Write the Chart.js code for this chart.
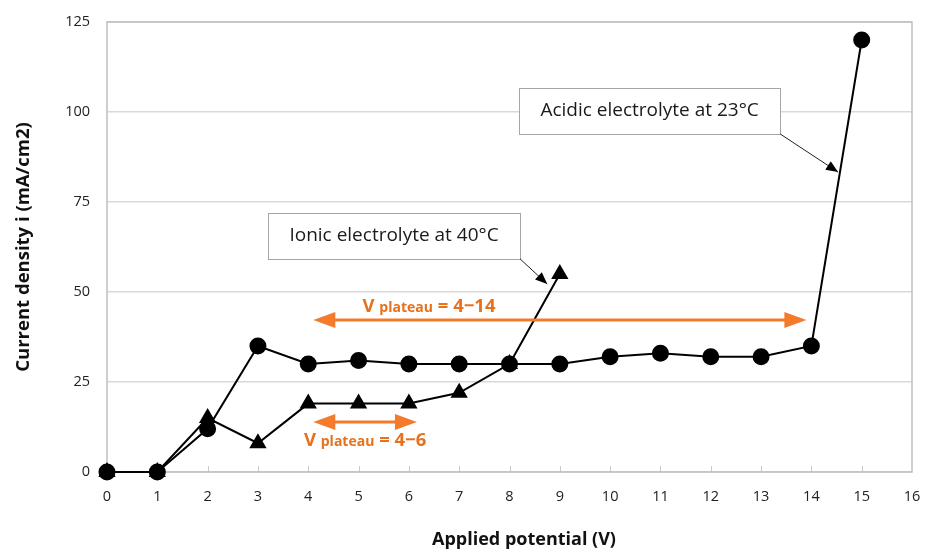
<!DOCTYPE html>
<html>
<head>
<meta charset="utf-8">
<script src="https://cdn.jsdelivr.net/npm/chart.js@4.4.1/dist/chart.umd.min.js"></script>
<style>
  html, body { margin: 0; padding: 0; background: #fff; }
  #wrap { width: 935px; height: 554px; }
</style>
</head>
<body>
<div id="wrap"><canvas id="chart" width="935" height="554"></canvas></div>
<script>
// Data
const potentials = [0, 1, 2, 3, 4, 5, 6, 7, 8, 9, 10, 11, 12, 13, 14, 15];
const acidic = [0, 0, 12, 35, 30, 31, 30, 30, 30, 30, 32, 33, 32, 32, 35, 120];
const ionic = [0, 0, 15, 8, 19, 19, 19, 22, 30, 55];
const yTicks = [0, 25, 50, 75, 100, 125];

const FONT = "'Open Sans', 'Noto Sans', sans-serif";
const ORANGE = '#F47B2C';
const ORANGE_TEXT = '#E8711A';

function toPoints(ys) {
    return ys.map((y, i) => ({ x: potentials[i], y: y }));
}

function arrowHead(ctx, x1, y1, x2, y2, len, half) {
    const a = Math.atan2(y2 - y1, x2 - x1);
    ctx.beginPath();
    ctx.moveTo(x2, y2);
    ctx.lineTo(x2 - len * Math.cos(a) + half * Math.sin(a), y2 - len * Math.sin(a) - half * Math.cos(a));
    ctx.lineTo(x2 - len * Math.cos(a) - half * Math.sin(a), y2 - len * Math.sin(a) + half * Math.cos(a));
    ctx.closePath();
    ctx.fill();
}

// callout boxes, positions in data units
const callouts = [
    { text: 'Ionic electrolyte at 40\u00B0C', x0: 3.2, x1: 8.21, y0: 71.9, y1: 59.2, tx: 8.75, ty: 52.2 },
    { text: 'Acidic electrolyte at 23\u00B0C', x0: 8.19, x1: 13.38, y0: 106.7, y1: 93.9, tx: 14.53, ty: 83.3 }
];
const plateaus = [
    { from: 4.1, to: 13.9, y: 42.2, lx: 6.4, ly: 46.2, range: '4\u221214' },
    { from: 4.1, to: 6.16, y: 13.9, lx: 5.13, ly: 9.0, range: '4\u22126' }
];

const decor = {
    id: 'decor',
    beforeDatasetsDraw(chart) {
        const { ctx, chartArea: a, scales: { x, y } } = chart;
        ctx.save();
        // inside tick marks on x axis
        ctx.strokeStyle = '#c8c8c8';
        ctx.lineWidth = 1;
        for (let v = 1; v < 16; v++) {
            const px = Math.round(x.getPixelForValue(v)) + 0.5;
            ctx.beginPath();
            ctx.moveTo(px, a.bottom);
            ctx.lineTo(px, a.bottom - 6);
            ctx.stroke();
        }
        // plot border
        ctx.strokeStyle = '#bfbfbf';
        ctx.lineWidth = 1.5;
        ctx.strokeRect(a.left, a.top, a.right - a.left, a.bottom - a.top);
        // x axis title
        ctx.fillStyle = '#111';
        ctx.font = 'bold 18px ' + FONT;
        ctx.textAlign = 'center';
        ctx.textBaseline = 'middle';
        ctx.fillText('Applied potential (V)', 524, 540);
        ctx.restore();
    },
    afterDatasetsDraw(chart) {
        const { ctx, scales: { x, y } } = chart;
        ctx.save();
        // callouts
        callouts.forEach(c => {
            const l = x.getPixelForValue(c.x0), r = x.getPixelForValue(c.x1);
            const t = y.getPixelForValue(c.y0), b = y.getPixelForValue(c.y1);
            ctx.fillStyle = '#fff';
            ctx.fillRect(l, t, r - l, b - t);
            ctx.strokeStyle = '#a6a6a6';
            ctx.lineWidth = 1;
            ctx.strokeRect(Math.round(l) + 0.5, Math.round(t) + 0.5, Math.round(r - l), Math.round(b - t));
            ctx.fillStyle = '#1a1a1a';
            ctx.font = '19px ' + FONT;
            ctx.textAlign = 'center';
            ctx.textBaseline = 'middle';
            ctx.fillText(c.text, (l + r) / 2, (t + b) / 2);
            const ex = x.getPixelForValue(c.tx), ey = y.getPixelForValue(c.ty);
            ctx.strokeStyle = '#222';
            ctx.fillStyle = '#000';
            ctx.lineWidth = 1;
            ctx.beginPath();
            ctx.moveTo(r, b);
            ctx.lineTo(ex, ey);
            ctx.stroke();
            arrowHead(ctx, r, b, ex, ey, 12, 5);
        });
        // orange double arrows with labels
        plateaus.forEach(p => {
            const x0 = x.getPixelForValue(p.from), x1 = x.getPixelForValue(p.to);
            const py = y.getPixelForValue(p.y);
            ctx.strokeStyle = ORANGE;
            ctx.fillStyle = ORANGE;
            ctx.lineWidth = 3;
            ctx.beginPath();
            ctx.moveTo(x0 + 15, py);
            ctx.lineTo(x1 - 15, py);
            ctx.stroke();
            arrowHead(ctx, x1, py, x0, py, 22, 8);
            arrowHead(ctx, x0, py, x1, py, 22, 8);

            const big = 'bold 18.5px ' + FONT, small = 'bold 14px ' + FONT;
            const parts = [['V ', big], ['plateau', small], [' = ' + p.range, big]];
            let w = 0;
            parts.forEach(s => { ctx.font = s[1]; w += ctx.measureText(s[0]).width; });
            let cx = x.getPixelForValue(p.lx) - w / 2;
            const cy = y.getPixelForValue(p.ly);
            ctx.fillStyle = ORANGE_TEXT;
            ctx.textAlign = 'left';
            ctx.textBaseline = 'alphabetic';
            parts.forEach(s => {
                ctx.font = s[1];
                ctx.fillText(s[0], cx, cy + 6);
                cx += ctx.measureText(s[0]).width;
            });
        });
        ctx.restore();
    }
};

new Chart(document.getElementById('chart'), {
    type: 'line',
    data: {
        datasets: [
            {
                label: 'Acidic electrolyte at 23°C',
                data: toPoints(acidic),
                borderColor: '#000',
                backgroundColor: '#000',
                borderWidth: 2,
                pointStyle: 'circle',
                pointRadius: 7.5,
                pointHoverRadius: 7.5,
                clip: false
            },
            {
                label: 'Ionic electrolyte at 40°C',
                data: toPoints(ionic),
                borderColor: '#000',
                backgroundColor: '#000',
                borderWidth: 2,
                pointStyle: 'triangle',
                pointRadius: 8,
                pointHoverRadius: 8,
                clip: false
            }
        ]
    },
    options: {
        responsive: false,
        animation: false,
        layout: { padding: { top: 22, right: 23, left: 13, bottom: 0 } },
        plugins: { legend: { display: false }, tooltip: { enabled: false } },
        scales: {
            x: {
                type: 'linear',
                min: 0,
                max: 16,
                afterFit(scale) { scale.height = 82; },
                afterBuildTicks(scale) { scale.ticks = potentials.concat([16]).map(v => ({ value: v })); },
                grid: { display: false },
                border: { display: false },
                ticks: { color: '#222', font: { family: FONT, size: 14.5 }, padding: 8 },
                title: { display: false }
            },
            y: {
                min: 0,
                max: 125,
                afterFit(scale) {
                    scale.width = 94;
                    scale.paddingTop = 0;
                    scale.paddingBottom = 0;
                },
                afterBuildTicks(scale) { scale.ticks = yTicks.map(v => ({ value: v })); },
                grid: { color: '#d9d9d9', lineWidth: 1.5, drawTicks: false },
                border: { display: false },
                ticks: { color: '#222', font: { family: FONT, size: 14.5 }, padding: 17 },
                title: {
                    display: true,
                    text: 'Current density i (mA/cm2)',
                    color: '#111',
                    font: { family: FONT, size: 18.5, weight: 'bold' },
                    padding: { top: 0, bottom: 4 }
                }
            }
        }
    },
    plugins: [decor]
});
</script>
</body>
</html>
